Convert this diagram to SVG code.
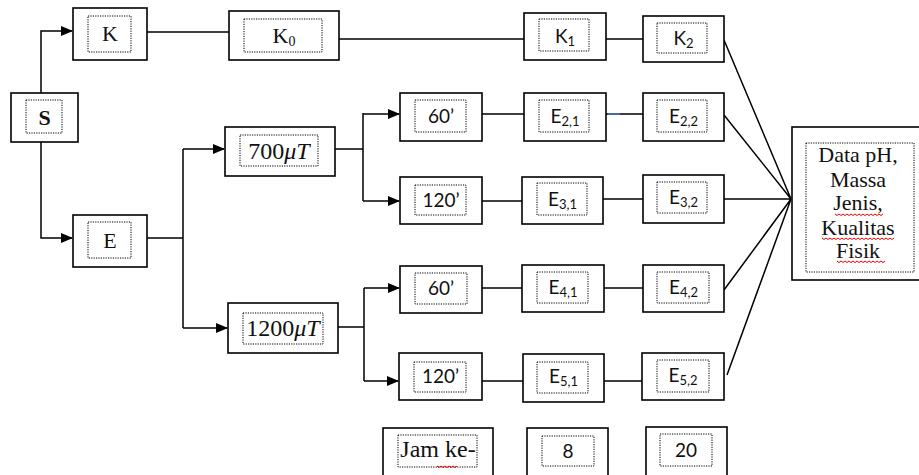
<svg xmlns="http://www.w3.org/2000/svg" width="919" height="475" viewBox="0 0 919 475">
<defs>
<marker id="arr" markerUnits="userSpaceOnUse" markerWidth="12" markerHeight="10" refX="11" refY="5" orient="auto">
<path d="M0,0 L12,5 L0,10 Z" fill="#000"/>
</marker>
<style>
.box{fill:#fff;stroke:#000;stroke-width:1.6}
.in{fill:none;stroke:#000;stroke-width:1;stroke-dasharray:1.2,1.2}
.ser{font-family:"Liberation Serif","Times New Roman",serif;fill:#111;text-anchor:middle}
.san{font-family:Lato,"Liberation Sans",Arial,sans-serif;fill:#111;text-anchor:middle;font-size:19px}
.c{fill:none;stroke:#000;stroke-width:1.5}
.sq{fill:none;stroke:#e00;stroke-width:1}
</style>
</defs>
<rect width="919" height="475" fill="#fff"/>

<g id="connectors">
<path class="c" d="M41,93 V31 H72" marker-end="url(#arr)"/>
<path class="c" d="M41,142 V238 H72" marker-end="url(#arr)"/>
<path class="c" d="M147,32 H229"/>
<path class="c" d="M339,39 H524"/>
<path class="c" d="M606,39 H643"/>
<path class="c" d="M147,238 H183 M183,149 V328"/>
<path class="c" d="M183,149 H224" marker-end="url(#arr)"/>
<path class="c" d="M183,328 H227" marker-end="url(#arr)"/>
<path class="c" d="M335,149 H363 M363,113 V201"/>
<path class="c" d="M363,114 H399" marker-end="url(#arr)"/>
<path class="c" d="M363,201 H399" marker-end="url(#arr)"/>
<path class="c" d="M338,327 H364 M364,288 V381"/>
<path class="c" d="M364,288 H399" marker-end="url(#arr)"/>
<path class="c" d="M364,381 H398" marker-end="url(#arr)"/>
<path class="c" d="M482,114 H524 M606,114 H643"/>
<path d="M608,114 H620" stroke="#4a78c8" stroke-width="1.5"/>
<path class="c" d="M482,201 H522 M603,199 H643"/>
<path class="c" d="M482,288 H522 M604,288 H643"/>
<path class="c" d="M482,381 H523 M604,381 H642"/>
<path class="c" d="M724,40 L791,199 M724,115 L791,199 M724,199 H791 M724,290 L791,199 M727,375 L791,199"/>
</g>

<g id="S"><rect class="box" x="11" y="93" width="67" height="49"/><rect class="in" x="26" y="100" width="36" height="33"/><text class="ser" x="44.5" y="125" font-size="22" font-weight="bold">S</text></g>
<g id="K"><rect class="box" x="73" y="8" width="74" height="52"/><rect class="in" x="88" y="16" width="43" height="36"/><text class="ser" x="110" y="41" font-size="22">K</text></g>
<g id="E"><rect class="box" x="73" y="215" width="74" height="52"/><rect class="in" x="88" y="222" width="43" height="36"/><text class="ser" x="110" y="248" font-size="22">E</text></g>
<g id="K0"><rect class="box" x="229" y="11" width="110" height="49"/><rect class="in" x="244" y="19" width="78" height="33"/><text class="ser" x="284" y="43" font-size="22">K<tspan font-size="14" dy="3">0</tspan></text></g>
<g id="T700"><rect class="box" x="225" y="127" width="110" height="49"/><rect class="in" x="240" y="135" width="78" height="31"/><text class="ser" x="279" y="159" font-size="24">700<tspan font-style="italic">μT</tspan></text></g>
<g id="T1200"><rect class="box" x="228" y="303" width="110" height="50"/><rect class="in" x="243" y="313" width="80" height="31"/><text class="ser" x="283" y="336" font-size="24">1200<tspan font-style="italic">μT</tspan></text></g>

<g id="K1"><rect class="box" x="524" y="13" width="82" height="47"/><rect class="in" x="539" y="19" width="50" height="32"/><text class="san" x="565" y="43">K<tspan font-size="13" dy="3">1</tspan></text></g>
<g id="K2"><rect class="box" x="643" y="16" width="81" height="46"/><rect class="in" x="657" y="23" width="50" height="30"/><text class="san" x="683.5" y="45">K<tspan font-size="13" dy="3">2</tspan></text></g>

<g id="M60a"><rect class="box" x="400" y="93" width="82" height="48"/><rect class="in" x="415" y="100" width="51" height="32"/><text class="san" x="441" y="123">60’</text></g>
<g id="E21"><rect class="box" x="524" y="93" width="82" height="48"/><rect class="in" x="539" y="100" width="50" height="32"/><text class="san" x="565" y="123">E<tspan font-size="13" dy="3">2,1</tspan></text></g>
<g id="E22"><rect class="box" x="643" y="93" width="81" height="48"/><rect class="in" x="657" y="100" width="50" height="32"/><text class="san" x="683.5" y="123">E<tspan font-size="13" dy="3">2,2</tspan></text></g>

<g id="M120a"><rect class="box" x="400" y="177" width="82" height="47"/><rect class="in" x="415" y="185" width="51" height="30"/><text class="san" x="441" y="207">120’</text></g>
<g id="E31"><rect class="box" x="522" y="177" width="81" height="47"/><rect class="in" x="537" y="183" width="50" height="32"/><text class="san" x="562.5" y="206">E<tspan font-size="13" dy="3">3,1</tspan></text></g>
<g id="E32"><rect class="box" x="643" y="175" width="81" height="48"/><rect class="in" x="657" y="182" width="50" height="31"/><text class="san" x="683.5" y="204">E<tspan font-size="13" dy="3">3,2</tspan></text></g>

<g id="M60b"><rect class="box" x="400" y="266" width="82" height="47"/><rect class="in" x="415" y="273" width="52" height="31"/><text class="san" x="441" y="295">60’</text></g>
<g id="E41"><rect class="box" x="522" y="265" width="82" height="47"/><rect class="in" x="537" y="272" width="51" height="31"/><text class="san" x="563" y="294">E<tspan font-size="13" dy="3">4,1</tspan></text></g>
<g id="E42"><rect class="box" x="643" y="265" width="81" height="47"/><rect class="in" x="657" y="272" width="52" height="31"/><text class="san" x="683.5" y="294">E<tspan font-size="13" dy="3">4,2</tspan></text></g>

<g id="M120b"><rect class="box" x="399" y="353" width="83" height="47"/><rect class="in" x="414" y="362" width="52" height="30"/><text class="san" x="440.5" y="383">120’</text></g>
<g id="E51"><rect class="box" x="523" y="354" width="81" height="48"/><rect class="in" x="537" y="362" width="51" height="31"/><text class="san" x="563.5" y="383">E<tspan font-size="13" dy="3">5,1</tspan></text></g>
<g id="E52"><rect class="box" x="642" y="353" width="82" height="47"/><rect class="in" x="657" y="360" width="52" height="32"/><text class="san" x="683" y="382">E<tspan font-size="13" dy="3">5,2</tspan></text></g>

<g id="Data"><rect class="box" x="792" y="127" width="140" height="153"/><rect class="in" x="806" y="143" width="108" height="129"/>
<text class="ser" font-size="22"><tspan x="858" y="162">Data pH,</tspan><tspan x="858" y="187">Massa</tspan><tspan x="858" y="210">Jenis,</tspan><tspan x="858" y="235">Kualitas</tspan><tspan x="858" y="258">Fisik</tspan></text>
<path class="sq" d="M835,214 l2,1.5 l2,-1.5 l2,1.5 l2,-1.5 l2,1.5 l2,-1.5 l2,1.5 l2,-1.5 l2,1.5 l2,-1.5 l2,1.5 l2,-1.5 l2,1.5 l2,-1.5 l2,1.5 l2,-1.5 l2,1.5 l2,-1.5 l2,1.5 l2,-1.5 l2,1.5 l2,-1.5 l2,1.5 l2,-1.5"/>
<path class="sq" d="M822,238 l2,1.5 l2,-1.5 l2,1.5 l2,-1.5 l2,1.5 l2,-1.5 l2,1.5 l2,-1.5 l2,1.5 l2,-1.5 l2,1.5 l2,-1.5 l2,1.5 l2,-1.5 l2,1.5 l2,-1.5 l2,1.5 l2,-1.5 l2,1.5 l2,-1.5 l2,1.5 l2,-1.5 l2,1.5 l2,-1.5 l2,1.5 l2,-1.5 l2,1.5 l2,-1.5 l2,1.5 l2,-1.5 l2,1.5 l2,-1.5 l2,1.5 l2,-1.5 l2,1.5 l2,-1.5"/>
<path class="sq" d="M837,261 l2,1.5 l2,-1.5 l2,1.5 l2,-1.5 l2,1.5 l2,-1.5 l2,1.5 l2,-1.5 l2,1.5 l2,-1.5 l2,1.5 l2,-1.5 l2,1.5 l2,-1.5 l2,1.5 l2,-1.5 l2,1.5 l2,-1.5 l2,1.5 l2,-1.5 l2,1.5 l2,-1.5 l2,1.5 l2,-1.5"/>
</g>

<g id="Jam"><rect class="box" x="383" y="428" width="110" height="60"/><rect class="in" x="398" y="435" width="79" height="32"/><text class="ser" x="438" y="457" font-size="24">Jam ke-</text>
<path class="sq" d="M437,466 l2,1.5 l2,-1.5 l2,1.5 l2,-1.5 l2,1.5 l2,-1.5 l2,1.5 l2,-1.5 l2,1.5 l2,-1.5"/></g>
<g id="N8"><rect class="box" x="527" y="428" width="81" height="60"/><rect class="in" x="542" y="436" width="52" height="30"/><text class="san" x="568" y="458" font-size="20">8</text></g>
<g id="N20"><rect class="box" x="646" y="427" width="81" height="60"/><rect class="in" x="660" y="434" width="52" height="32"/><text class="san" x="686" y="457" font-size="20">20</text></g>
</svg>
